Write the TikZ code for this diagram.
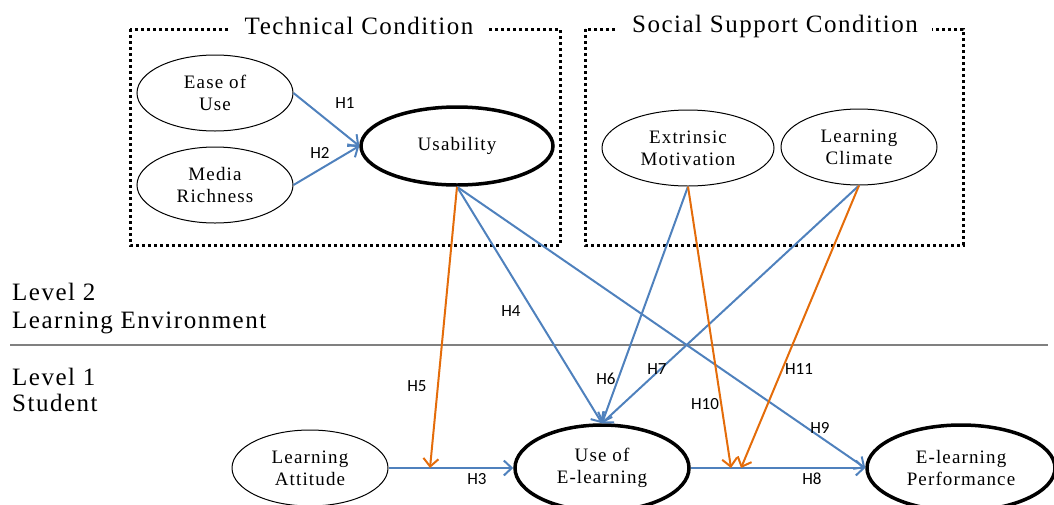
\documentclass[tikz,border=0pt]{standalone}
\usepackage{fontspec}
\setmainfont{Liberation Serif}[LetterSpace=6]
\newfontfamily\hlabfont{Carlito}
\usetikzlibrary{arrows.meta,shapes.geometric}
\definecolor{cblue}{HTML}{4F81BD}
\definecolor{corange}{HTML}{E46C0A}
\definecolor{cgray}{HTML}{808080}
\begin{document}
\begin{tikzpicture}[x=1pt,y=-1pt,
  every node/.style={inner sep=0pt},
  thinell/.style={ellipse, draw=black, line width=1pt, minimum width=156pt, minimum height=76pt, align=center, font=\fontsize{19}{22}\selectfont},
  thickell/.style={thinell, line width=3.5pt},
  dotbox/.style={line width=3pt, dash pattern=on 3pt off 3pt},
  titlelab/.style={fill=white, inner xsep=14pt, inner ysep=2pt, font=\fontsize{25}{28}\selectfont},
  levlab/.style={anchor=base west, font=\fontsize{25}{28}\selectfont},
  hlab/.style={font=\hlabfont\fontsize{17}{19}\selectfont},
  barrow/.style={draw=cblue, line width=2pt, -{Straight Barb[length=8pt,width=15pt,line width=2pt]}},
  oarrow/.style={draw=corange, line width=2pt, -{Straight Barb[length=8pt,width=15pt,line width=2pt]}}]
\useasboundingbox (0,0) rectangle (1054,504);

% boxes
\draw[dotbox] (130,29) rectangle (560,245);
\draw[dotbox] (585,29) rectangle (963,245);
\node[titlelab] (ttech) at (359,26) {Technical Condition};
\node[titlelab] (tsoc) at (775,26) {Social Support Condition};

% level separator
\draw[cgray, line width=1.5pt] (10,345) -- (1048,345);
\node[levlab] (lev2) at (12,300) {Level 2};
\node[levlab] (lenv) at (12,328) {Learning Environment};
\node[levlab] (lev1) at (12,385) {Level 1};
\node[levlab] (lstu) at (12,411) {Student};

% ellipses
\node[thinell] (ease) at (215,93) {Ease of\\Use};
\node[thinell] (media) at (215,185) {Media\\Richness};
\node[thickell, minimum width=192pt, minimum height=78pt] (usab) at (457,146) {Usability};
\node[thinell, minimum width=172pt] (extr) at (688,148) {Extrinsic\\Motivation};
\node[thinell] (clim) at (859,147) {Learning\\Climate};
\node[thinell] (att) at (310,468) {Learning\\Attitude};
\node[thickell, minimum width=174pt, minimum height=86pt] (use) at (602,468) {Use of\\E-learning};
\node[thickell, minimum width=188pt, minimum height=86pt] (perf) at (961,468) {E-learning\\Performance};

% free ends on the H3/H8 paths
\coordinate (h5end) at (430,468);
\coordinate (h10end) at (731,468);
\coordinate (h11end) at (741,468);

% connectors
\draw[barrow] (ease.east) -- (usab.west);
\draw[barrow] (media.east) -- (usab.west);
\draw[barrow] (att.east) -- (use.west);
\draw[barrow] (use.east) -- (perf.west);
\draw[barrow] (usab.south) -- (use.north);
\draw[barrow] (usab.south) -- (perf.west);
\draw[barrow] (extr.south) -- (use.north);
\draw[barrow] (clim.south) -- (use.north);
\draw[oarrow] (usab.south) -- (h5end);
\draw[oarrow] (extr.south) -- (h10end);
\draw[oarrow] (clim.south) -- (h11end);

% hypothesis labels
\node[hlab] (l1) at (345,103) {H1};
\node[hlab] (l2) at (320,153) {H2};
\node[hlab] (l3) at (477,479) {H3};
\node[hlab] (l4) at (511,311) {H4};
\node[hlab] (l5) at (417,386) {H5};
\node[hlab] (l6) at (606,379) {H6};
\node[hlab] (l7) at (657,369) {H7};
\node[hlab] (l8) at (812,479) {H8};
\node[hlab] (l9) at (820,428) {H9};
\node[hlab] (l10) at (705,404) {H10};
\node[hlab] (l11) at (799,369) {H11};
\end{tikzpicture}
\end{document}
